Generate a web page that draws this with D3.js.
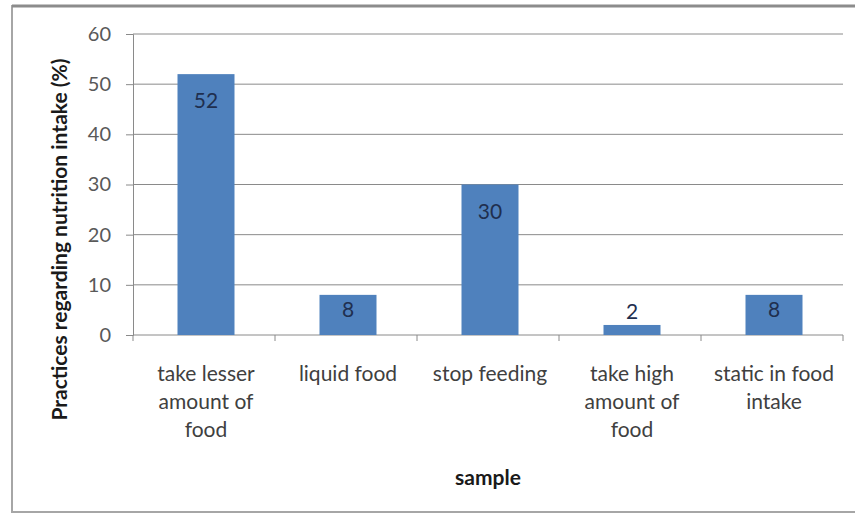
<!DOCTYPE html>
<html>
<head>
<meta charset="utf-8">
<script src="https://cdn.jsdelivr.net/npm/d3@7"></script>
<style>
  body { margin: 0; background: #fff; }
  text { font-family: Lato, "Open Sans", sans-serif; }
</style>
</head>
<body>
<script>
// chart data
const categories = [
  ["take lesser", "amount of", "food"],
  ["liquid food"],
  ["stop feeding"],
  ["take high", "amount of", "food"],
  ["static in food", "intake"]
];
const values = [52, 8, 30, 2, 8];
const yTicks = [0, 10, 20, 30, 40, 50, 60];

const W = 855, H = 514;
const plot = {left: 133, right: 843, top: 34, bottom: 335};

const svg = d3.select("body").append("svg")
    .attr("width", W)
    .attr("height", H);

// outer frame
svg.append("rect")
    .attr("x", 12).attr("y", 6)
    .attr("width", W).attr("height", H - 8)
    .attr("fill", "#fff")
    .attr("stroke", "#a6a6a6")
    .attr("stroke-width", 2);
svg.append("line")
    .attr("x1", 12).attr("x2", W)
    .attr("y1", 6).attr("y2", 6)
    .attr("stroke", "#8c8c8c")
    .attr("stroke-width", 3);

var xScale = d3.scaleBand()
    .domain(d3.range(values.length))
    .range([plot.left, plot.right])
    .paddingInner(0)
    .paddingOuter(0);

var yScale = d3.scaleLinear()
    .domain([0, 60])
    .range([plot.bottom, plot.top]);

// gridlines
svg.append("g")
    .selectAll("line")
    .data(yTicks.filter(d => d > 0))
    .enter().append("line")
    .attr("x1", plot.left).attr("x2", plot.right)
    .attr("y1", d => yScale(d)).attr("y2", d => yScale(d))
    .attr("stroke", "#8a8a8a")
    .attr("stroke-width", 1);

// y axis
var yAxis = svg.append("g")
    .attr("transform", "translate(" + plot.left + ",0)")
    .call(d3.axisLeft(yScale).tickValues(yTicks).tickSize(7).tickPadding(15));
yAxis.select(".domain").attr("stroke", "#8a8a8a");
yAxis.selectAll(".tick line").attr("stroke", "#8a8a8a");
yAxis.selectAll(".tick text")
    .attr("fill", "#595959")
    .style("font-size", "20px")
    .style("font-family", "Lato, sans-serif");

// x axis with ticks at category boundaries
var xBound = d3.range(values.length + 1).map(i => plot.left + i * xScale.step());
svg.append("line")
    .attr("x1", plot.left).attr("x2", plot.right)
    .attr("y1", plot.bottom).attr("y2", plot.bottom)
    .attr("stroke", "#8a8a8a");
svg.append("g")
    .selectAll("line")
    .data(xBound)
    .enter().append("line")
    .attr("x1", d => d).attr("x2", d => d)
    .attr("y1", plot.bottom).attr("y2", plot.bottom + 6)
    .attr("stroke", "#8a8a8a");

// bars
var barW = 57;
svg.selectAll(".bar")
    .data(values)
    .enter().append("rect")
    .attr("class", "bar")
    .attr("x", (d, i) => xScale(i) + xScale.bandwidth() / 2 - barW / 2 + 2)
    .attr("y", d => yScale(d))
    .attr("width", barW)
    .attr("height", d => yScale(0) - yScale(d))
    .attr("fill", "#4f81bd");

// data labels
svg.selectAll(".lbl")
    .data(values)
    .enter().append("text")
    .attr("class", "lbl")
    .attr("x", (d, i) => xScale(i) + xScale.bandwidth() / 2 + 2)
    .attr("y", function(d) {
        var h = yScale(0) - yScale(d);
        if (h < 25) return yScale(d) - 13;
        return yScale(d) + Math.min(27, h / 2 - 5);
    })
    .attr("dy", "0.35em")
    .attr("text-anchor", "middle")
    .attr("fill", "#1f2f4f")
    .style("font-size", "21px")
    .text(d => d);

// category labels
var cat = svg.selectAll(".cat")
    .data(categories)
    .enter().append("text")
    .attr("class", "cat")
    .attr("text-anchor", "middle")
    .attr("fill", "#404040")
    .style("font-size", "21px");
cat.selectAll("tspan")
    .data((d, i) => d.map(s => ({s: s, i: i})))
    .enter().append("tspan")
    .attr("x", d => xScale(d.i) + xScale.bandwidth() / 2 + 2)
    .attr("y", (d, j) => 381 + j * 28)
    .text(d => d.s);

// axis titles
svg.append("text")
    .attr("transform", "translate(67," + ((plot.top + plot.bottom) / 2 + 55) + ") rotate(-90)")
    .attr("text-anchor", "middle")
    .attr("fill", "#1a1a1a")
    .style("font-size", "21px")
    .style("font-weight", "bold")
    .text("Practices regarding nutrition intake (%)");

svg.append("text")
    .attr("x", (plot.left + plot.right) / 2)
    .attr("y", 485)
    .attr("text-anchor", "middle")
    .attr("fill", "#1a1a1a")
    .style("font-size", "21px")
    .style("font-weight", "bold")
    .text("sample");
</script>
</body>
</html>
